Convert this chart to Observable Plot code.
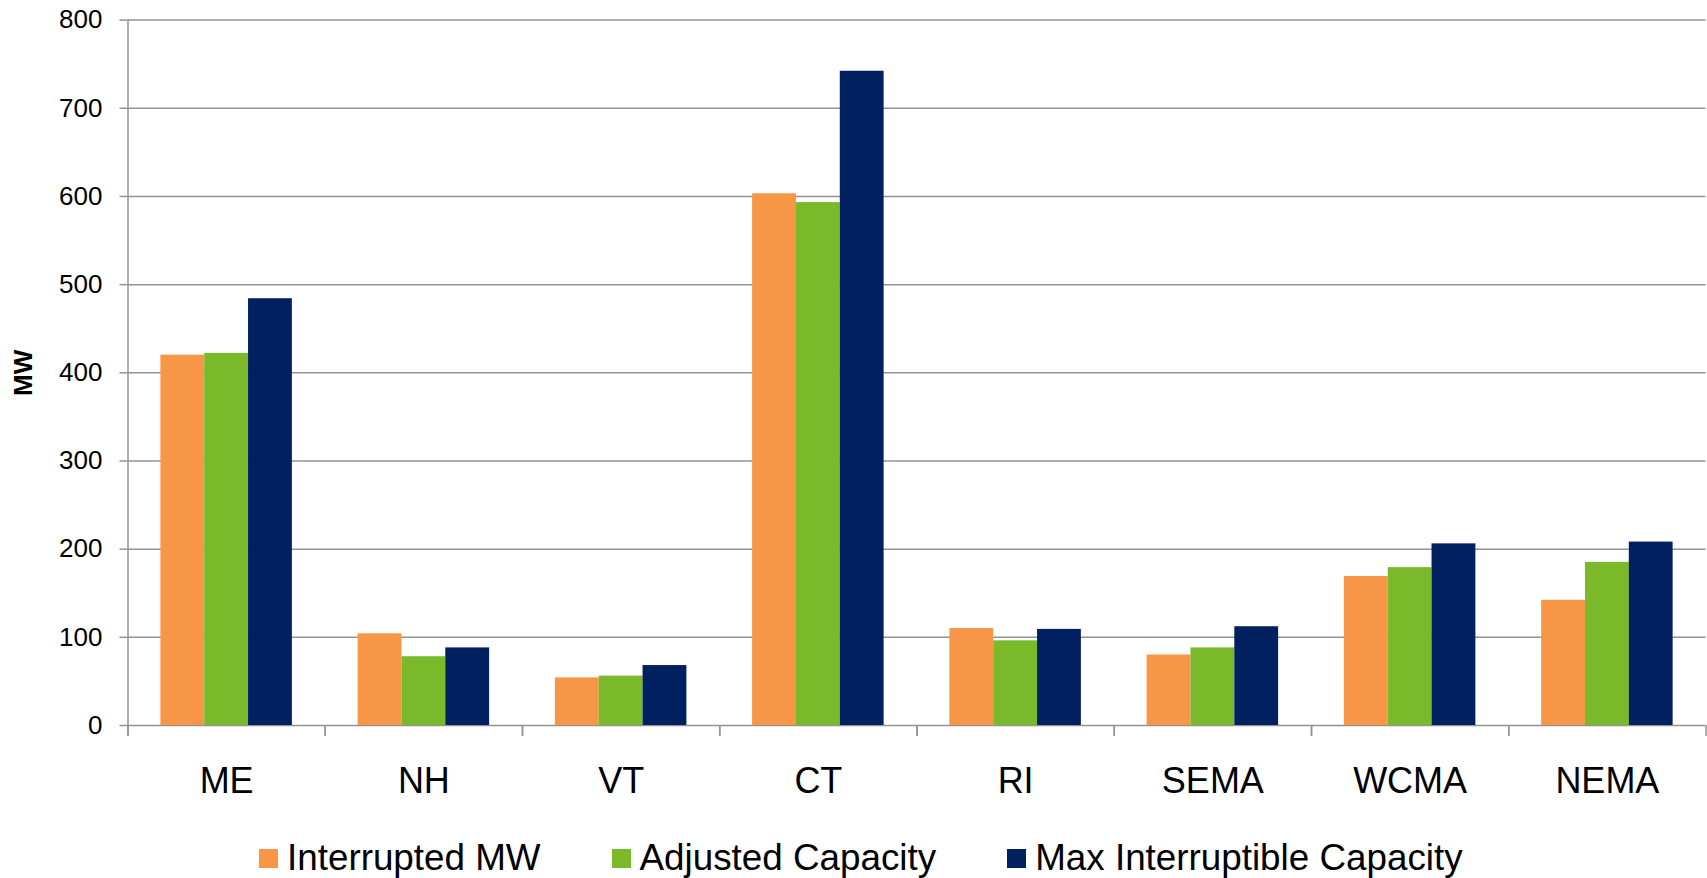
<!DOCTYPE html>
<html>
<head>
<meta charset="utf-8">
<script src="https://cdn.jsdelivr.net/npm/d3@7"></script>
<script src="https://cdn.jsdelivr.net/npm/@observablehq/plot@0.6"></script>
<style>
  html, body { margin: 0; padding: 0; background: #fff; }
  body { font-family: "Liberation Sans", Arial, sans-serif; color: #000; }
  #chart svg { display: block; }
  #legend { display: flex; align-items: center; padding-left: 259px; height: 40px;
            font-size: 36.8px; line-height: 40px; white-space: nowrap; }
  .item { display: flex; align-items: center; margin-right: 71px; }
  .sw { width: 19px; height: 19px; margin-right: 9px; flex: none; }
</style>
</head>
<body>
<div id="chart"></div>
<div id="legend"></div>
<script>
// ---- data ----
const regions = ["ME", "NH", "VT", "CT", "RI", "SEMA", "WCMA", "NEMA"];
const seriesNames = ["Interrupted MW", "Adjusted Capacity", "Max Interruptible Capacity"];
const interruptedMW     = [420, 104, 54, 603, 110, 80, 169, 142];
const adjustedCapacity  = [422, 78, 56, 593, 96, 88, 179, 185];
const maxInterruptible  = [484, 88, 68, 742, 109, 112, 206, 208];
const seriesColors = ["#F79646", "#7AB929", "#002060"];
const yTicks = [0, 100, 200, 300, 400, 500, 600, 700, 800];
const yLabel = "MW";

// ---- layout ----
const W = 1707, H = 838;
const mL = 127.5, mR = 1.5, mT = 19.6, mB = H - 725;
const plotH = H - mT - mB;
const bw = (W - mL - mR) / regions.length;
const barW = bw / 4.5;
const gapW = (bw - 3 * barW) / 2;
const gridColor = "#939393";

const seriesValues = [interruptedMW, adjustedCapacity, maxInterruptible];
const table = [];
seriesNames.forEach((s, si) => regions.forEach((r, ri) => table.push({region: r, series: s, value: seriesValues[si][ri]})));

const barMarks = seriesNames.map((s, si) => Plot.barY(table.filter(d => d.series === s), {
  x: "region", y: "value", fill: seriesColors[si],
  insetLeft: gapW + si * barW,
  insetRight: bw - gapW - (si + 1) * barW
}));

const chart = Plot.plot({
  width: W, height: H,
  marginLeft: mL, marginRight: mR, marginTop: mT, marginBottom: mB,
  style: {fontFamily: "'Liberation Sans', Arial, sans-serif", color: "#000", background: "#fff", overflow: "visible"},
  x: {type: "band", domain: regions, paddingInner: 0, paddingOuter: 0, round: false},
  y: {domain: [0, 800], round: false},
  marks: [
    Plot.ruleY(yTicks, {stroke: gridColor, strokeWidth: 1.5}),
    ...barMarks,
    // y axis line (left edge of first band), extending below to tick length
    Plot.ruleX([regions[0]], {x: d => d, dx: -bw / 2, stroke: gridColor, strokeWidth: 1.5, insetBottom: -11}),
    // category boundary ticks
    Plot.ruleX(regions, {x: d => d, dx: -bw / 2, stroke: gridColor, strokeWidth: 1.5, insetTop: plotH, insetBottom: -11}),
    Plot.ruleX(regions, {x: d => d, dx: bw / 2, stroke: gridColor, strokeWidth: 1.5, insetTop: plotH, insetBottom: -11}),
    Plot.axisY({ticks: yTicks, tickSize: 8, tickPadding: 17.5, fontSize: 26, stroke: gridColor, strokeWidth: 1.5, label: null, tickFormat: d => String(d)}),
    Plot.axisX({tickSize: 0, tickPadding: 42, fontSize: 36, label: null}),
    Plot.text([yLabel], {frameAnchor: "left", textAnchor: "middle", rotate: -90, dx: -104, fontSize: 26, fontWeight: "bold", fill: "#000"})
  ]
});
document.getElementById("chart").appendChild(chart);

// ---- legend ----
const legend = document.getElementById("legend");
seriesNames.forEach((s, i) => {
  const it = document.createElement("div");
  it.className = "item";
  const sw = document.createElement("span");
  sw.className = "sw";
  sw.style.background = seriesColors[i];
  const tx = document.createElement("span");
  tx.textContent = s;
  it.appendChild(sw); it.appendChild(tx);
  legend.appendChild(it);
});
</script>
</body>
</html>
